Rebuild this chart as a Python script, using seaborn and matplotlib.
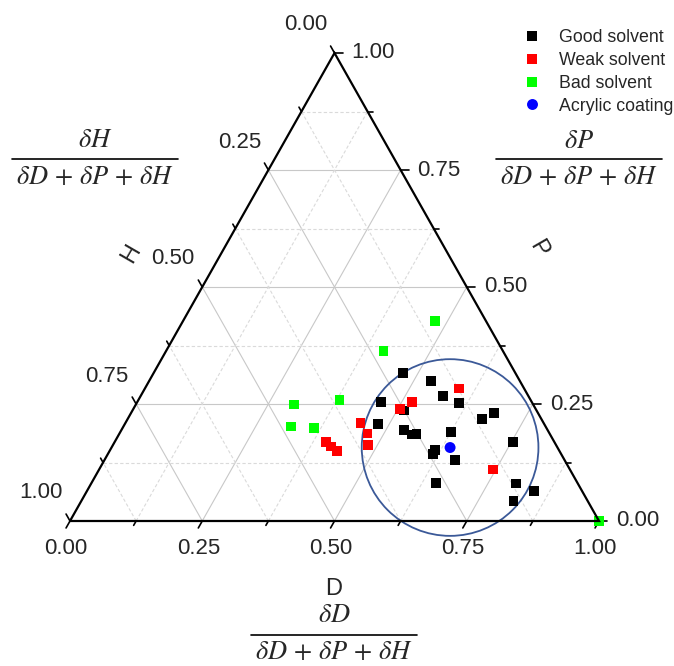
import numpy as np
import pandas as pd
import matplotlib.pyplot as plt
import seaborn as sns
from matplotlib.patches import Ellipse
from matplotlib.lines import Line2D

# Hansen parameter fractions (D, P); H = 1 - D - P
good_D = [0.472, 0.533, 0.572, 0.609, 0.461, 0.514, 0.686, 0.670, 0.478, 0.534, 0.553,
          0.562, 0.625, 0.754, 0.614, 0.615, 0.663, 0.652, 0.803, 0.845, 0.817]
good_P = [0.316, 0.299, 0.267, 0.252, 0.254, 0.236, 0.231, 0.218, 0.207, 0.194, 0.185,
          0.186, 0.190, 0.168, 0.152, 0.143, 0.130, 0.081, 0.080, 0.064, 0.043]
weak_D = [0.594, 0.519, 0.504, 0.444, 0.469, 0.482, 0.400, 0.414, 0.429, 0.744]
weak_P = [0.283, 0.254, 0.239, 0.210, 0.187, 0.162, 0.168, 0.159, 0.150, 0.110]
bad_D = [0.477, 0.411, 0.380, 0.299, 0.316, 0.361, 1.000]
bad_P = [0.427, 0.363, 0.259, 0.249, 0.202, 0.199, 0.000]
coat_D = [0.640]
coat_P = [0.157]
sphere_radius = 0.167

categories = ['Good solvent', 'Weak solvent', 'Bad solvent', 'Acrylic coating']
colors = ['black', 'red', '#00ff00', 'blue']
ticks = [0.0, 0.25, 0.5, 0.75, 1.0]
minor_ticks = [0.125, 0.375, 0.625, 0.875]

sns.set_style('white')
plt.rcParams['font.family'] = ['Liberation Sans', 'DejaVu Sans']
plt.rcParams['mathtext.fontset'] = 'stix'


def to_xy(d, p):
    # ternary -> cartesian: bottom axis D, right axis P, left axis H
    return np.asarray(d) + np.asarray(p) / 2, np.asarray(p)


frames = []
for name, D, P in zip(categories, [good_D, weak_D, bad_D, coat_D], [good_P, weak_P, bad_P, coat_P]):
    x, y = to_xy(D, P)
    frames.append(pd.DataFrame({'x': x, 'y': y, 'kind': name}))
data = pd.concat(frames, ignore_index=True)

W, Hpx = 674, 666
fig = plt.figure(figsize=(W / 100, Hpx / 100), dpi=100)
ax = fig.add_axes([70 / W, (Hpx - 521) / Hpx, 529 / W, 468 / Hpx])
ax.set_xlim(0, 1)
ax.set_ylim(0, 1)
ax.axis('off')
sx, sy = 529, 468  # pixels per data unit

# grid lines
for v in ticks[1:-1] + minor_ticks:
    if v in ticks:
        style = dict(color='#c8c8c8', lw=0.8, ls='-')
    else:
        style = dict(color='#dadada', lw=0.8, ls=(0, (3, 2)))
    ax.plot([v / 2, 1 - v / 2], [v, v], **style)             # constant P
    ax.plot([v, v + (1 - v) / 2], [0, 1 - v], **style)       # constant D
    ax.plot([1 - v, (1 - v) / 2], [0, 1 - v], **style)       # constant H

# triangle frame
ax.plot([0, 1, 0.5, 0], [0, 0, 1, 0], color='black', lw=1.6, solid_joinstyle='miter',
        clip_on=False, zorder=6)

# ticks and tick labels
ux, uy = -0.492, 0.871
for v in ticks + minor_ticks:
    L = 8 if v in ticks else 5
    # bottom: D
    ax.plot([v, v + ux * L / sx], [0, -uy * L / sy], color='black', lw=1.2, clip_on=False)
    # right: P
    xr, yr = to_xy(1 - v, v)
    ax.plot([xr, xr + L / sx], [yr, yr], color='black', lw=1.2, clip_on=False)
    # left: H
    xl, yl = to_xy(0, 1 - v)
    ax.plot([xl, xl + ux * L / sx], [yl, yl + uy * L / sy], color='black', lw=1.2, clip_on=False)
    if v in ticks:
        lab = f'{v:.2f}'
        ax.annotate(lab, (v, 0), xytext=(-4, -28), textcoords='offset pixels',
                    ha='center', va='center', fontsize=16)
        ax.annotate(lab, (xr, yr), xytext=(17, 0), textcoords='offset pixels',
                    ha='left', va='center', fontsize=16)
        ax.annotate(lab, (xl, yl), xytext=(-29, 28), textcoords='offset pixels',
                    ha='center', va='center', fontsize=16)

# Hansen sphere around the coating
cx, cy = to_xy(coat_D[0], coat_P[0])
ax.add_patch(Ellipse((cx, cy), 2 * sphere_radius, 2 * sphere_radius * sx / sy,
                     fill=False, ec='#3b5998', lw=1.3, clip_on=False, zorder=4))

sns.scatterplot(data=data, x='x', y='y', hue='kind', style='kind', size='kind',
                palette=dict(zip(categories, colors)),
                markers={'Good solvent': 's', 'Weak solvent': 's', 'Bad solvent': 's', 'Acrylic coating': 'o'},
                sizes={'Good solvent': 50, 'Weak solvent': 50, 'Bad solvent': 50, 'Acrylic coating': 62},
                linewidth=0, ax=ax, clip_on=False, zorder=5)

handles, labels = ax.get_legend_handles_labels()
ax.legend(handles, labels, loc='upper left', bbox_to_anchor=(523 / W, 1 - 29 / Hpx),
          bbox_transform=fig.transFigure, frameon=False, fontsize=12.8,
          handlelength=1.0, handletextpad=1.0, labelspacing=0.33,
          borderpad=0, borderaxespad=0)

# axis titles
fig.text(334 / W, 1 - 589 / Hpx, 'D', ha='center', va='center', fontsize=17)
fig.text(131 / W, 1 - 254 / Hpx, 'H', ha='center', va='center', fontsize=17, rotation=60)
fig.text(538 / W, 1 - 249 / Hpx, 'P', ha='center', va='center', fontsize=17, rotation=-60)

# normalised-parameter fractions: numerator, bar, denominator
denom = r'$\delta D\,+\,\delta P\,+\,\delta H$'
fractions = [('D', 334, 615, 635, 652), ('H', 95, 140, 159, 177), ('P', 579, 141, 159, 177)]
for sym, xc, y_num, y_bar, y_den in fractions:
    fig.text(xc / W, 1 - y_num / Hpx, r'$\delta %s$' % sym, ha='center', va='center', fontsize=19)
    fig.text(xc / W, 1 - y_den / Hpx, denom, ha='center', va='center', fontsize=19)
    fig.add_artist(Line2D([(xc - 83) / W, (xc + 83) / W], [1 - y_bar / Hpx] * 2,
                          color='black', lw=1.2))

fig.savefig('out.png', dpi=100)
